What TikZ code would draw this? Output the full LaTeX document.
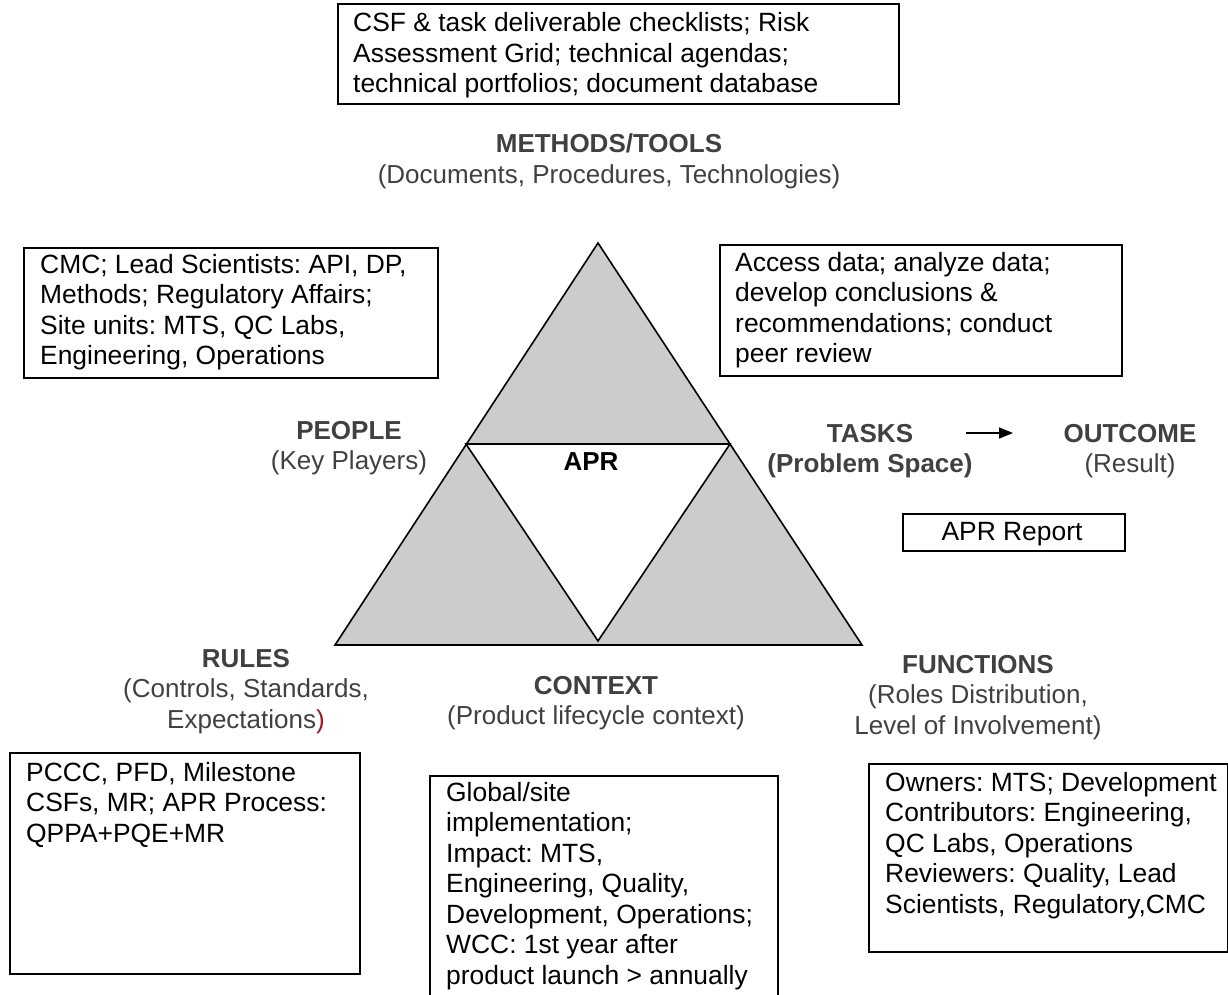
\documentclass[tikz,border=0pt]{standalone}
\usepackage{fontspec}
\setmainfont{Liberation Sans}
\usetikzlibrary{arrows.meta}
\definecolor{labelgray}{RGB}{64,64,64}
\definecolor{trifill}{RGB}{204,204,204}
\definecolor{parenred}{RGB}{150,30,30}
\newcommand{\boxfont}{\fontsize{26.4}{30.5}\selectfont\frenchspacing}
\newcommand{\headfont}{\fontsize{26}{30.5}\selectfont\frenchspacing}
\newcommand{\stackL}[1]{\begin{tabular}[t]{@{}l@{}}#1\end{tabular}}
\newcommand{\stackC}[1]{\begin{tabular}[t]{@{}c@{}}#1\end{tabular}}
\tikzset{
  box/.style={draw=black, line width=2pt, inner sep=0pt, anchor=north west},
  boxtext/.style={anchor=base west, inner sep=0pt, text=black, font=\boxfont},
  head/.style={anchor=base, inner sep=0pt, text=labelgray, font=\headfont},
  tri/.style={draw=black, line width=1.6pt, line join=miter},
}
\begin{document}
\begin{tikzpicture}[x=1pt, y=-1pt]
\useasboundingbox (0,0) rectangle (1228,995);
\begin{scope}
\clip (0,0) rectangle (1228,995);

% the APR triangle: three grey corners around a white centre
\coordinate (apex) at (598,243);
\coordinate (bl) at (335,645);
\coordinate (br) at (862,645);
\coordinate (ml) at (466,444);
\coordinate (mr) at (730,444);
\coordinate (mb) at (598,641);
\filldraw[tri, fill=trifill] (apex) -- (br) -- (bl) -- cycle;
\filldraw[tri, fill=white] (ml) -- (mr) -- (mb) -- cycle;
\node[anchor=base, inner sep=0pt, font=\headfont\bfseries] (apr) at (591,470) {APR};

% methods / tools
\node[box, minimum width=561pt, minimum height=100pt] (toolbox) at (337,3) {};
\node[boxtext] (tooltext) at (353,32) {\stackL{CSF \& task deliverable checklists; Risk\\Assessment Grid; technical agendas;\\technical portfolios; document database}};
\node[head] (methods) at (609,153) {\stackC{\textbf{METHODS/TOOLS}\\(Documents, Procedures, Technologies)}};

% people
\node[box, minimum width=414pt, minimum height=130pt] (peoplebox) at (23,247) {};
\node[boxtext] (peopletext) at (40,273) {\stackL{CMC; Lead Scientists: API, DP,\\Methods; Regulatory Affairs;\\Site units: MTS, QC Labs,\\Engineering, Operations}};
\node[head] (people) at (349,439) {\stackC{\textbf{PEOPLE}\\(Key Players)}};

% tasks and outcome
\node[box, minimum width=402pt, minimum height=131pt] (taskbox) at (719,244) {};
\node[boxtext] (tasktext) at (735,271) {\stackL{Access data; analyze data;\\develop conclusions \&\\recommendations; conduct\\peer review}};
\node[head] (tasks) at (870,442) {\stackC{\textbf{TASKS}\\\textbf{(Problem Space)}}};
\node[head] (outcome) at (1130,442) {\stackC{\textbf{OUTCOME}\\(Result)}};
\coordinate (arrowfrom) at (966,433);
\coordinate (arrowto) at (1013,433);
\draw[line width=1.6pt, -{Triangle[length=14pt, width=11pt]}] (arrowfrom) -- (arrowto);
\node[box, minimum width=222pt, minimum height=37pt] (reportbox) at (902,513) {};
\node[anchor=base, inner sep=0pt, font=\boxfont] (report) at (1012,540) {APR Report};

% rules
\node[head] (rules) at (246,667) {\stackC{\textbf{RULES}\\(Controls, Standards,\\Expectations\textcolor{parenred}{)}}};
\node[box, minimum width=350pt, minimum height=221pt] (rulesbox) at (9,752) {};
\node[boxtext] (rulestext) at (26,781) {\stackL{PCCC, PFD, Milestone\\CSFs, MR; APR Process:\\QPPA+PQE+MR}};

% context
\node[head] (context) at (596,694) {\stackC{\textbf{CONTEXT}\\(Product lifecycle context)}};
\node[box, minimum width=348pt, minimum height=240pt] (contextbox) at (429,775) {};
\node[boxtext] (contexttext) at (446,801) {\stackL{Global/site\\implementation;\\Impact: MTS,\\Engineering, Quality,\\Development, Operations;\\WCC: 1st year after\\product launch > annually}};

% functions
\node[head] (functions) at (978,673) {\stackC{\textbf{FUNCTIONS}\\(Roles Distribution,\\Level of Involvement)}};
\node[box, minimum width=359pt, minimum height=188pt] (funcbox) at (868,763) {};
\node[boxtext] (functext) at (885,791) {\stackL{Owners: MTS; Development\\Contributors: Engineering,\\QC Labs, Operations\\Reviewers: Quality, Lead\\Scientists, Regulatory,CMC}};
\end{scope}
\end{tikzpicture}
\end{document}
